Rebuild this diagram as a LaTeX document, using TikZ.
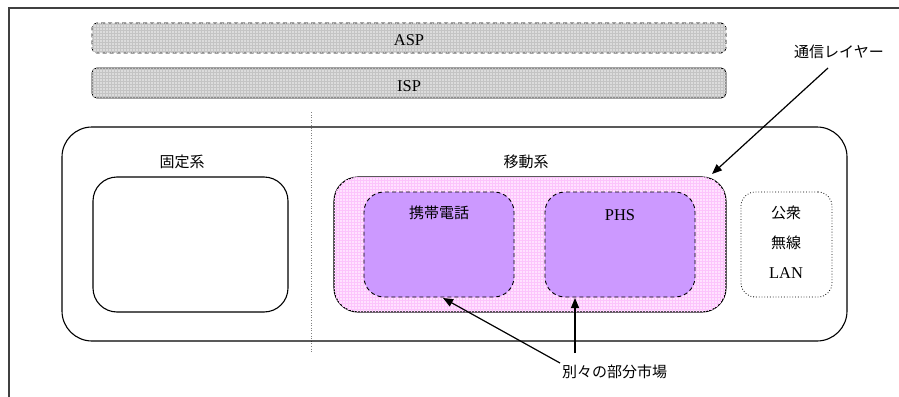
\documentclass[tikz,border=0pt]{standalone}
\usepackage{fontspec}
\setmainfont{Liberation Serif}
\newfontfamily\jp{Noto Sans CJK JP}
\usetikzlibrary{arrows.meta,patterns}
\definecolor{bargray}{HTML}{DCDCDC}
\definecolor{gridgray}{HTML}{C4C4C4}
\definecolor{pinkfill}{HTML}{FFE2FF}
\definecolor{pinkgrid}{HTML}{FCC4FC}
\definecolor{purplefill}{HTML}{CC99FF}
\definecolor{framegray}{HTML}{404040}
\tikzset{
  bar/.style={draw=black, line width=0.9pt, rounded corners=5pt, fill=bargray,
    postaction={pattern=grid, pattern color=gridgray},
    minimum width=634pt, minimum height=30pt, inner sep=0pt},
  boxw/.style={draw=black, line width=1.1pt, rounded corners=24pt, minimum width=195pt, minimum height=135pt, inner sep=0pt},
  sub/.style={draw=black, line width=0.9pt, dashed, dash pattern=on 4pt off 3pt, rounded corners=20pt, fill=purplefill,
    minimum width=150pt, minimum height=105pt, inner sep=0pt},
  lbl/.style={font=\fontsize{16.5}{18}\selectfont, inner sep=1pt},
  jlbl/.style={font=\jp\fontsize{15}{17}\selectfont, inner sep=1pt},
  arr/.style={line width=1.2pt, -{Triangle[length=10pt,width=8pt]}},
}
\begin{document}
\begin{tikzpicture}[x=1pt,y=-1pt]
\useasboundingbox (0,0) rectangle (899,396);
\clip (0,0) rectangle (899,396);
% frame
\draw[framegray, line width=1.3pt] (9,8) rectangle (920,420);
% bars
\node[bar, dashed, dash pattern=on 4pt off 3pt] (asp) at (409,38) {};
\node[lbl, anchor=base] at (409,46) {ASP};
\node[bar] (isp) at (409,83) {};
\node[lbl, anchor=base] at (409,91) {ISP};
% dotted divider
\coordinate (dvt) at (311,112);
\coordinate (dvb) at (311,353);
\draw[gray, line width=0.6pt, dotted] (dvt) -- (dvb);
% big box
\node[draw=black, line width=1.1pt, rounded corners=30pt, minimum width=785pt, minimum height=214pt, inner sep=0pt] (big) at (454.5,234) {};
% fixed
\node[boxw, fill=white] (fixed) at (190.5,244.5) {};
\node[jlbl] (fixedlbl) at (182,162) {固定系};
% pink box
\node[draw=black, line width=1.1pt, rounded corners=24pt, fill=pinkfill,
  postaction={pattern=grid, pattern color=pinkgrid},
  minimum width=392pt, minimum height=135pt, inner sep=0pt] (pink) at (530,244.5) {};
\node[fill=white, minimum width=73pt, minimum height=18pt, inner sep=0pt] (mobilebg) at (526.5,167) {};
\node[jlbl] (mobilelbl) at (526,162) {移動系};
% sub boxes
\node[sub] (keitai) at (439,244.5) {};
\node[jlbl] at (439,213) {携帯電話};
\node[sub] (phs) at (620,244.5) {};
\node[lbl, anchor=base] at (620,220) {PHS};
% LAN
\node[draw=black, line width=0.8pt, dotted, rounded corners=14pt, minimum width=91pt, minimum height=105pt, inner sep=0pt] (lan) at (786.5,244.5) {};
\node[jlbl] at (786,213) {公衆};
\node[jlbl] at (786,243) {無線};
\node[lbl, anchor=base] at (786,278) {LAN};
% labels and arrows
\node[jlbl, anchor=west] (layer) at (793,52) {通信レイヤー};
\coordinate (layerS) at (828,68);
\coordinate (pinkTip) at (712,174);
\draw[arr] (layerS) -- (pinkTip);
\node[jlbl, anchor=west] (market) at (561,372) {別々の部分市場};
\coordinate (m1) at (560,363);
\coordinate (m2) at (575,353);
\coordinate (k1) at (443,298);
\coordinate (p1) at (575,298);
\draw[arr] (m1) -- (k1);
\draw[arr] (m2) -- (p1);
\end{tikzpicture}
\end{document}
